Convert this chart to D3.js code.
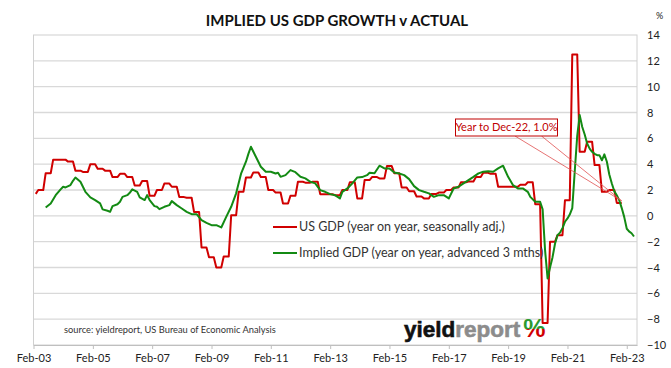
<!DOCTYPE html>
<html>
<head>
<meta charset="utf-8">
<script src="https://cdn.jsdelivr.net/npm/d3@7"></script>
<style>
  body { margin: 0; background: #fff; }
  svg { display: block; font-family: Lato, "Open Sans", sans-serif; }
</style>
</head>
<body>
<div id="chart"></div>
<script>
const width = 671,
  height = 368,
  plot = { left: 33.5, right: 637, top: 35, bottom: 345 };

// US GDP, year on year (%), one value per quarter, Q1 2003 .. Q4 2022
const gdpFirstQuarter = "2003-01";
const gdpShownFrom = "2003-03";
const gdpQuarterly = [
  1.7, 2.0, 3.3, 4.35,
  4.35, 4.2, 3.5, 3.4,
  4.0, 3.65, 3.5, 3.0,
  3.25, 3.0, 2.35, 2.7,
  1.55, 2.0, 2.5, 2.25,
  1.45, 1.4, 0.3, -2.45,
  -3.2, -4.0, -3.15, 0.05,
  1.86, 2.97, 3.36, 3.0,
  2.0, 1.8, 0.96, 1.55,
  2.64, 2.57, 2.64, 1.68,
  1.68, 1.6, 2.0, 2.6,
  1.35, 2.77, 3.0, 2.9,
  3.85, 3.3, 2.2, 1.9,
  1.5, 1.35, 1.7, 1.8,
  2.0, 2.2, 2.6, 2.65,
  3.0, 3.33, 3.25, 2.25,
  2.25, 2.25, 2.4, 2.6,
  0.9, -8.3, -2.0, -1.5,
  1.2, 12.5, 4.96, 5.74,
  3.93, 1.86, 2.0, 1.0
];

// Implied GDP (year on year, advanced 3 months), monthly readings
const impliedMonths = [
  "2003-07","2003-09","2003-11",
  "2004-01","2004-02","2004-03","2004-05","2004-06","2004-07","2004-09","2004-11",
  "2005-01","2005-03","2005-05","2005-06","2005-08","2005-09","2005-10","2005-12",
  "2006-01","2006-02","2006-04","2006-05","2006-06","2006-08","2006-09","2006-11","2006-12",
  "2007-01","2007-03","2007-04","2007-05","2007-07","2007-09","2007-10","2007-12",
  "2008-02","2008-04","2008-06","2008-08","2008-10","2008-12",
  "2009-02","2009-04","2009-06","2009-08","2009-10","2009-12",
  "2010-02","2010-04","2010-05","2010-06","2010-08","2010-10","2010-12",
  "2011-02","2011-04","2011-05","2011-06","2011-08","2011-10","2011-12",
  "2012-02","2012-04","2012-06","2012-08","2012-10","2012-12",
  "2013-02","2013-04","2013-06","2013-07","2013-09","2013-11",
  "2014-01","2014-03","2014-05","2014-06","2014-08","2014-10","2014-12",
  "2015-02","2015-04","2015-06","2015-08","2015-10","2015-12",
  "2016-02","2016-04","2016-06","2016-08","2016-10","2016-12",
  "2017-02","2017-04","2017-06","2017-08","2017-10","2017-12",
  "2018-02","2018-04","2018-06","2018-08","2018-10","2018-12",
  "2019-02","2019-04","2019-06","2019-08","2019-10","2019-11",
  "2020-01","2020-03","2020-04","2020-05","2020-06","2020-07","2020-08","2020-09","2020-10","2020-11","2020-12",
  "2021-01","2021-02","2021-03","2021-04","2021-05","2021-06","2021-07","2021-08","2021-09","2021-10","2021-11","2021-12",
  "2022-01","2022-02","2022-03","2022-04","2022-05","2022-06","2022-07","2022-08","2022-09","2022-10","2022-11","2022-12",
  "2023-01","2023-02","2023-03","2023-04","2023-05"
];
const impliedValues = [
  0.65, 0.96, 1.6,
  2.05, 2.25, 2.2, 2.38, 2.71, 2.97, 2.64, 1.86,
  1.43, 1.22, 0.96, 0.5, 0.39, 0.31, 0.75, 0.9,
  1.09, 1.47, 1.6, 1.78, 2.05, 1.86, 1.43, 1.22, 1.6,
  1.22, 0.75, 0.7, 0.52, 0.7, 0.83, 1.14, 0.83,
  0.57, 0.31, 0.13, 0.13, -0.33, -0.54,
  -0.72, -0.72, -0.9, -0.08, 0.7, 1.74,
  3.29, 4.19, 4.8, 5.35, 4.57, 3.8, 3.41,
  3.41, 3.28, 3.33, 3.02, 3.15, 3.54, 3.38,
  3.02, 2.9, 2.64, 2.51, 1.99, 1.86,
  1.68, 1.6, 1.35, 1.86, 2.12, 2.51,
  2.97, 3.0, 3.15, 3.33, 3.3, 3.88, 3.67,
  3.67, 3.36, 3.28, 3.15, 2.84, 2.3,
  1.99, 1.86, 1.74, 1.47, 1.6, 1.6,
  1.35, 2.12, 2.25, 2.51, 2.77, 3.02,
  3.29, 3.41, 3.46, 3.41, 3.67, 3.88,
  3.02, 2.38, 2.12, 2.12, 1.86, 1.47,
  1.09, 1.09, 0.5, -2.66, -4.85, -4.0, -3.2, -2.14, -1.5, -1.3, -0.95,
  -0.46, -0.2, 0.1, 0.6, 3.4, 6.2, 7.8, 6.9, 6.3, 5.6, 5.2, 4.96,
  4.8, 4.7, 4.7, 4.3, 4.76, 4.19, 3.2, 2.5, 1.9, 1.6, 1.2, 0.6,
  -0.1, -1.0, -1.2, -1.35, -1.6
];

const xTickLabels = ["Feb-03","Feb-05","Feb-07","Feb-09","Feb-11","Feb-13","Feb-15","Feb-17","Feb-19","Feb-21","Feb-23"];
const yTickValues = [-10, -8, -6, -4, -2, 0, 2, 4, 6, 8, 10, 12, 14];
const gridValues = [-8, -6, -4, -2, 0, 2, 4, 6, 8, 10, 12];

const seriesNames = ["US GDP (year on year, seasonally adj.)", "Implied GDP (year on year, advanced 3 mths)"];
const seriesColors = ["#d00000", "#138a13"];
const calloutText = "Year to Dec-22, 1.0%";
const calloutMonth = "2022-12";
const calloutValue = 1.0;

const parseMonth = d3.timeParse("%Y-%m");
const parseTick = d3.timeParse("%b-%y");

// quarterly value held flat across the quarter's months
const firstQ = parseMonth(gdpFirstQuarter);
const shownFrom = parseMonth(gdpShownFrom);
const gdpPoints = [];
gdpQuarterly.forEach((v, i) => {
  const start = d3.timeMonth.offset(firstQ, i * 3);
  [start, d3.timeMonth.offset(start, 2)].forEach(d => {
    if (d >= shownFrom) gdpPoints.push({ date: d, value: v });
  });
});
const impliedPoints = impliedMonths.map((m, i) => ({ date: parseMonth(m), value: impliedValues[i] }));

const xScale = d3.scaleTime()
  .domain([new Date(2003, 1, 1), new Date(2023, 5, 7)])
  .range([plot.left, plot.right]);
const yScale = d3.scaleLinear()
  .domain([-10, 14])
  .range([plot.bottom, plot.top]);

const svg = d3.select("#chart")
  .append("svg")
  .attr("width", width)
  .attr("height", height);

svg.append("rect").attr("width", width).attr("height", height).attr("fill", "#fff");

// title
svg.append("text")
  .attr("x", 337)
  .attr("y", 26)
  .attr("text-anchor", "middle")
  .attr("font-size", 15)
  .attr("font-weight", "bold")
  .attr("fill", "#111")
  .text("IMPLIED US GDP GROWTH v ACTUAL");

// gridlines
svg.append("g")
  .selectAll("line")
  .data(gridValues)
  .join("line")
  .attr("x1", plot.left)
  .attr("x2", plot.right)
  .attr("y1", d => yScale(d))
  .attr("y2", d => yScale(d))
  .attr("stroke", "#d9d9d9")
  .attr("stroke-width", 1.3);

// plot border
svg.append("rect")
  .attr("x", plot.left)
  .attr("y", plot.top)
  .attr("width", plot.right - plot.left)
  .attr("height", plot.bottom - plot.top)
  .attr("fill", "none")
  .attr("stroke", "#d0d0d0")
  .attr("stroke-width", 1);

// x axis
const xAxis = d3.axisBottom(xScale)
  .tickValues(xTickLabels.map(parseTick))
  .tickFormat(d3.timeFormat("%b-%y"))
  .tickSize(4)
  .tickSizeOuter(0);
const gx = svg.append("g")
  .attr("transform", `translate(0,${plot.bottom})`)
  .call(xAxis);
gx.select(".domain").attr("stroke", "#bfbfbf");
gx.selectAll(".tick line").attr("stroke", "#bfbfbf");
gx.selectAll(".tick text")
  .attr("dy", "0.95em")
  .attr("font-size", 11)
  .attr("font-family", "Lato, sans-serif")
  .attr("fill", "#222");

// y axis on the right
const yAxis = d3.axisRight(yScale)
  .tickValues(yTickValues)
  .tickSize(0)
  .tickPadding(10);
const gy = svg.append("g")
  .attr("transform", `translate(${plot.right},0)`)
  .call(yAxis);
gy.select(".domain").remove();
gy.selectAll(".tick text")
  .attr("font-size", 11)
  .attr("font-family", "Lato, sans-serif")
  .attr("fill", "#222");

svg.append("text")
  .attr("x", 656)
  .attr("y", 19)
  .attr("font-size", 9)
  .attr("fill", "#222")
  .text("%");

// lines
const line = d3.line()
  .x(d => xScale(d.date))
  .y(d => yScale(d.value));

svg.append("path")
  .datum(gdpPoints)
  .attr("fill", "none")
  .attr("stroke", seriesColors[0])
  .attr("stroke-width", 2)
  .attr("stroke-linejoin", "round")
  .attr("d", line);

svg.append("path")
  .datum(impliedPoints)
  .attr("fill", "none")
  .attr("stroke", seriesColors[1])
  .attr("stroke-width", 2)
  .attr("stroke-linejoin", "round")
  .attr("d", line);

// legend
const legend = svg.append("g")
  .selectAll("g")
  .data(seriesNames)
  .join("g")
  .attr("transform", (d, i) => `translate(273,${227 + i * 26})`);
legend.append("line")
  .attr("x1", 0).attr("x2", 24)
  .attr("stroke", (d, i) => seriesColors[i])
  .attr("stroke-width", 2);
legend.append("text")
  .attr("x", 26)
  .attr("dy", "0.35em")
  .attr("font-size", 12.5)
  .attr("fill", "#333")
  .text(d => d);

// callout
const tip = [xScale(parseMonth(calloutMonth)), yScale(calloutValue) - 2];
const box = { x: 455.5, y: 119, w: 102, h: 17 };
svg.append("g")
  .selectAll("line")
  .data([515, 541.5])
  .join("line")
  .attr("x1", d => d)
  .attr("y1", box.y + box.h)
  .attr("x2", tip[0])
  .attr("y2", tip[1])
  .attr("stroke", "#e05050")
  .attr("stroke-width", 0.8);
svg.append("rect")
  .attr("x", box.x).attr("y", box.y)
  .attr("width", box.w).attr("height", box.h)
  .attr("fill", "#fff")
  .attr("stroke", "#c00000")
  .attr("stroke-width", 1);
svg.append("text")
  .attr("x", box.x + box.w / 2)
  .attr("y", box.y + box.h / 2)
  .attr("dy", "0.35em")
  .attr("text-anchor", "middle")
  .attr("font-size", 11)
  .attr("fill", "#c00000")
  .text(calloutText);

// source
svg.append("text")
  .attr("x", 64)
  .attr("y", 333)
  .attr("font-size", 9.3)
  .attr("fill", "#333")
  .text("source: yieldreport, US Bureau of Economic Analysis");

// logo
const grad = svg.append("defs").append("linearGradient")
  .attr("id", "pct").attr("x1", 0).attr("y1", 0).attr("x2", 0).attr("y2", 1);
grad.append("stop").attr("offset", "55%").attr("stop-color", "#2e9a2e");
grad.append("stop").attr("offset", "55%").attr("stop-color", "#d00000");

const logo = svg.append("text")
  .attr("x", 404)
  .attr("y", 337)
  .attr("font-family", "'Liberation Sans Narrow', sans-serif")
  .attr("font-weight", "bold")
  .attr("font-size", 22.5)
  .attr("stroke-width", 0.6);
logo.append("tspan").attr("fill", "#111").attr("stroke", "#111").text("yield");
logo.append("tspan").attr("fill", "#8c8c8c").attr("stroke", "#8c8c8c").text("report");
logo.append("tspan").attr("fill", "url(#pct)").attr("dx", 3).attr("font-size", 25).text("%");
</script>
</body>
</html>
